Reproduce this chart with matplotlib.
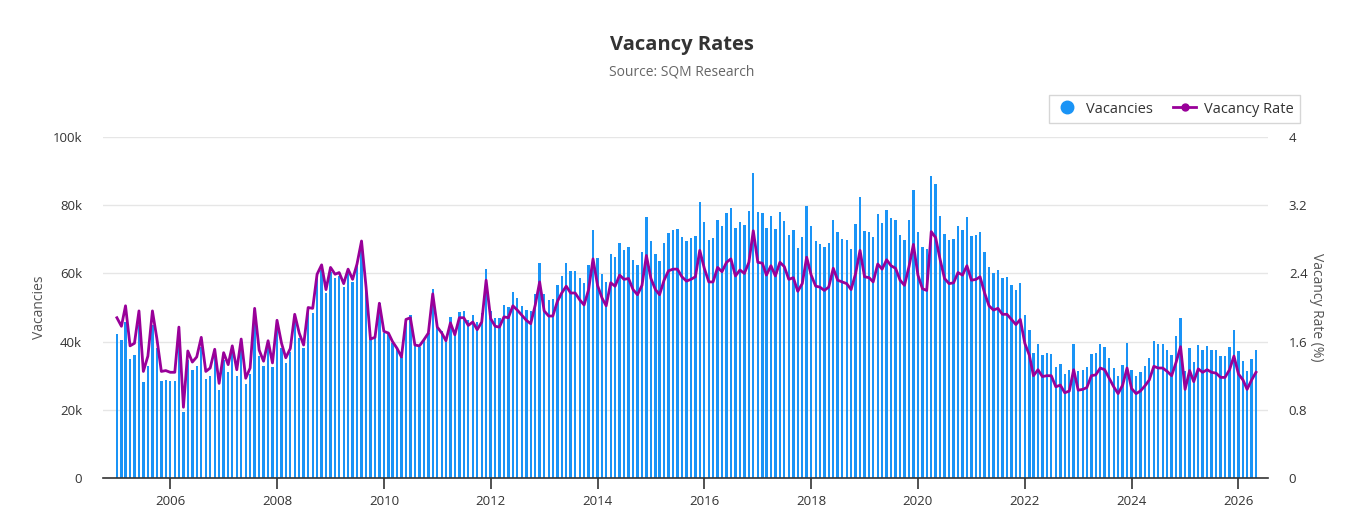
import numpy as np
import pandas as pd
import matplotlib
matplotlib.use('Agg')
import matplotlib.pyplot as plt
import matplotlib.dates as mdates
from matplotlib.lines import Line2D

plt.rcParams['font.family'] = ['Open Sans', 'DejaVu Sans']

# monthly data, Jan 2005 onwards
start_month = '2005-01-01'

# vacancies (thousands)
vacancies_k = [
    42.2, 40.5, 45.8, 34.9, 36.1, 44.9, 28.1, 32.8, 44.9, 38.0, 28.4, 28.7,
    28.4, 28.4, 44.0, 19.5, 34.6, 31.7, 32.8, 38.3, 29.0, 29.9, 37.5, 25.8,
    34.6, 31.2, 36.6, 29.9, 38.0, 27.6, 30.5, 45.8, 35.8,
    32.8, 38.0, 32.6, 44.4, 38.0, 33.6, 37.0, 46.3, 41.0, 38.0, 49.1, 48.3,
    58.6, 61.0, 54.3, 60.5, 58.6, 59.2, 56.1, 60.0, 57.6, 63.4, 69.6, 55.1,
    40.7, 41.0, 51.2, 42.4, 42.4, 39.5, 38.0, 35.6, 46.3, 47.8,
    39.0, 38.5, 40.5, 42.4, 55.4, 45.8, 43.1, 40.5, 47.3, 42.9, 48.8, 49.1,
    46.3, 47.8, 45.8, 48.3, 61.3, 49.0, 46.8, 46.8, 50.7, 50.1, 54.6, 52.9,
    50.4, 49.3, 49.1, 54.0, 63.1, 54.0, 52.2, 52.5, 56.6,
    59.2, 63.0, 60.7, 60.7, 58.6, 57.1, 62.5, 72.7, 64.4, 59.8, 57.4, 65.6,
    64.7, 68.8, 66.9, 67.7, 63.9, 62.5, 66.3, 76.5, 69.5, 65.6, 63.6, 68.8,
    71.8, 72.7, 73.0, 70.8, 69.5, 70.3, 71.1, 80.8,
    75.1, 69.8, 70.3, 75.7, 73.9, 77.8, 79.1, 73.2, 75.1, 74.2, 78.3, 89.4,
    77.9, 77.6, 73.2, 76.8, 73.0, 77.9, 75.4, 71.2, 72.7, 67.4, 70.6, 79.8,
    73.9, 69.5, 68.6, 67.7, 68.8, 75.7, 72.2,
    70.0, 69.8, 67.1, 74.5, 82.3, 72.4, 72.1, 70.6, 77.4, 74.7, 78.6, 76.2,
    75.7, 71.2, 69.8, 75.7, 84.5, 72.0, 67.7, 67.1, 88.6, 86.2, 76.8, 71.5,
    69.8, 70.0, 73.9, 72.7, 76.5, 71.0, 71.3, 72.2,
    66.2, 61.8, 60.2, 61.0, 58.6, 59.0, 56.6, 55.1, 57.3, 47.8, 43.4, 36.7,
    39.3, 36.1, 36.6, 36.4, 32.6, 33.4, 30.5, 31.7, 39.3, 31.4, 31.7, 32.6,
    36.4, 36.7, 39.3, 38.5, 35.3, 32.3, 30.0,
    33.1, 39.7, 31.7, 29.9, 31.0, 32.8, 35.1, 40.2, 39.3, 39.3, 37.5, 36.1,
    41.6, 46.8, 31.4, 38.0, 34.1, 39.0, 37.5, 38.7, 37.5, 37.5, 35.8, 35.8,
    38.3, 43.4, 37.2, 34.3, 31.4, 34.9, 37.5,
]

# vacancy rate (%)
vacancy_rate = [
    1.88, 1.78, 2.02, 1.55, 1.58, 1.96, 1.25, 1.43, 1.96, 1.64, 1.25, 1.26,
    1.24, 1.24, 1.77, 0.83, 1.49, 1.36, 1.42, 1.65, 1.25, 1.29, 1.51, 1.11,
    1.47, 1.33, 1.55, 1.27, 1.63, 1.17, 1.29, 1.99, 1.50,
    1.37, 1.61, 1.35, 1.85, 1.58, 1.41, 1.52, 1.92, 1.70, 1.56, 2.00, 1.99,
    2.39, 2.50, 2.21, 2.47, 2.39, 2.41, 2.28, 2.45, 2.33, 2.51, 2.78, 2.24,
    1.63, 1.65, 2.05, 1.72, 1.70, 1.60, 1.52, 1.42, 1.86, 1.88,
    1.56, 1.55, 1.62, 1.70, 2.16, 1.77, 1.70, 1.61, 1.82, 1.68, 1.88, 1.88,
    1.79, 1.83, 1.74, 1.83, 2.32, 1.87, 1.78, 1.77, 1.89, 1.88, 2.02, 1.97,
    1.91, 1.85, 1.81, 2.03, 2.30, 1.96, 1.90, 1.90, 2.07,
    2.17, 2.25, 2.17, 2.17, 2.09, 2.03, 2.21, 2.57, 2.26, 2.11, 2.02, 2.29,
    2.25, 2.38, 2.33, 2.34, 2.21, 2.15, 2.26, 2.61, 2.34, 2.21, 2.15, 2.32,
    2.43, 2.45, 2.45, 2.36, 2.31, 2.33, 2.36, 2.67,
    2.46, 2.30, 2.30, 2.47, 2.42, 2.53, 2.57, 2.37, 2.44, 2.40, 2.53, 2.90,
    2.53, 2.52, 2.38, 2.49, 2.37, 2.53, 2.48, 2.33, 2.35, 2.19, 2.28, 2.59,
    2.38, 2.25, 2.24, 2.20, 2.24, 2.46, 2.32,
    2.30, 2.28, 2.21, 2.40, 2.67, 2.36, 2.35, 2.30, 2.51, 2.45, 2.56, 2.49,
    2.46, 2.32, 2.26, 2.48, 2.74, 2.38, 2.22, 2.20, 2.89, 2.82, 2.56, 2.34,
    2.28, 2.29, 2.41, 2.38, 2.49, 2.32, 2.33, 2.36,
    2.17, 2.02, 1.97, 1.99, 1.92, 1.92, 1.86, 1.80, 1.86, 1.58, 1.44, 1.20,
    1.27, 1.19, 1.20, 1.20, 1.07, 1.09, 1.00, 1.02, 1.27, 1.03, 1.04, 1.06,
    1.20, 1.21, 1.29, 1.27, 1.17, 1.07, 0.99,
    1.09, 1.29, 1.05, 0.99, 1.02, 1.08, 1.15, 1.31, 1.29, 1.29, 1.25, 1.20,
    1.36, 1.54, 1.04, 1.26, 1.13, 1.28, 1.24, 1.27, 1.24, 1.23, 1.18, 1.18,
    1.27, 1.43, 1.22, 1.15, 1.04, 1.15, 1.24,
]

months = pd.date_range(start_month, periods=len(vacancies_k), freq='MS')
vacancies = np.array(vacancies_k) * 1000

bar_color = '#1a94f6'
line_color = '#990099'
text_color = '#333333'

fig = plt.figure(figsize=(13.63, 5.32), dpi=100)
ax = fig.add_axes([103/1363, 1-478/532, (1268-103)/1363, (478-137)/532])
ax2 = ax.twinx()

ax.bar(months, vacancies, width=16, color=bar_color, zorder=2)
ax2.plot(months, vacancy_rate, color=line_color, lw=2, zorder=3)

ax.set_xlim(pd.Timestamp('2004-09-28'), pd.Timestamp('2026-07-22'))
ax.set_ylim(0, 100000)
ax2.set_ylim(0, 4)
ax.set_yticks(np.arange(0, 100001, 20000))
ax.set_yticklabels(['0', '20k', '40k', '60k', '80k', '100k'])
ax2.set_yticks([0, 0.8, 1.6, 2.4, 3.2, 4])
ax2.set_yticklabels(['0', '0.8', '1.6', '2.4', '3.2', '4'])

ax.xaxis.set_major_locator(mdates.YearLocator(2, month=1, day=1))
ax.xaxis.set_major_formatter(mdates.DateFormatter('%Y'))

ax.grid(axis='y', color='#e6e6e6', lw=1, zorder=0)
ax.set_axisbelow(True)
for a in (ax, ax2):
    for s in ('top', 'left', 'right'):
        a.spines[s].set_visible(False)
ax2.spines['bottom'].set_visible(False)
ax.spines['bottom'].set_color(text_color)
ax.spines['bottom'].set_linewidth(1.2)

ax.tick_params(axis='x', length=8, width=1.2, color=text_color, labelsize=9.5,
               labelcolor=text_color, pad=4)
ax.tick_params(axis='y', length=0, labelsize=9.5, labelcolor=text_color, pad=15)
ax2.tick_params(axis='y', length=0, labelsize=9.5, labelcolor=text_color, pad=15)

ax.set_ylabel('Vacancies', fontsize=10, color='#555555', labelpad=4)
ax2.set_ylabel('Vacancy Rate (%)', fontsize=10, color='#555555', rotation=270,
               labelpad=12)

fig.text(0.5, 1-45/532, 'Vacancy Rates', ha='center', va='center',
         fontsize=14.5, fontweight='bold', color=text_color)
fig.text(0.5, 1-72/532, 'Source: SQM Research', ha='center', va='center',
         fontsize=10, color='#666666')

handles = [
    Line2D([], [], ls='none', marker='o', ms=9, color=bar_color),
    Line2D([], [], color=line_color, lw=2, marker='o', ms=5),
]
leg = fig.legend(handles, ['Vacancies', 'Vacancy Rate'], loc='upper right',
                 bbox_to_anchor=(1300/1363, 1-95/532), ncol=2, fontsize=10.5,
                 frameon=True, fancybox=False, borderaxespad=0,
                 handlelength=1.6, columnspacing=1.4, handletextpad=0.5,
                 borderpad=0.45)
leg.get_frame().set_edgecolor('#cccccc')
leg.get_frame().set_linewidth(1)
for t in leg.get_texts():
    t.set_color(text_color)

fig.savefig('out.png', dpi=100)
